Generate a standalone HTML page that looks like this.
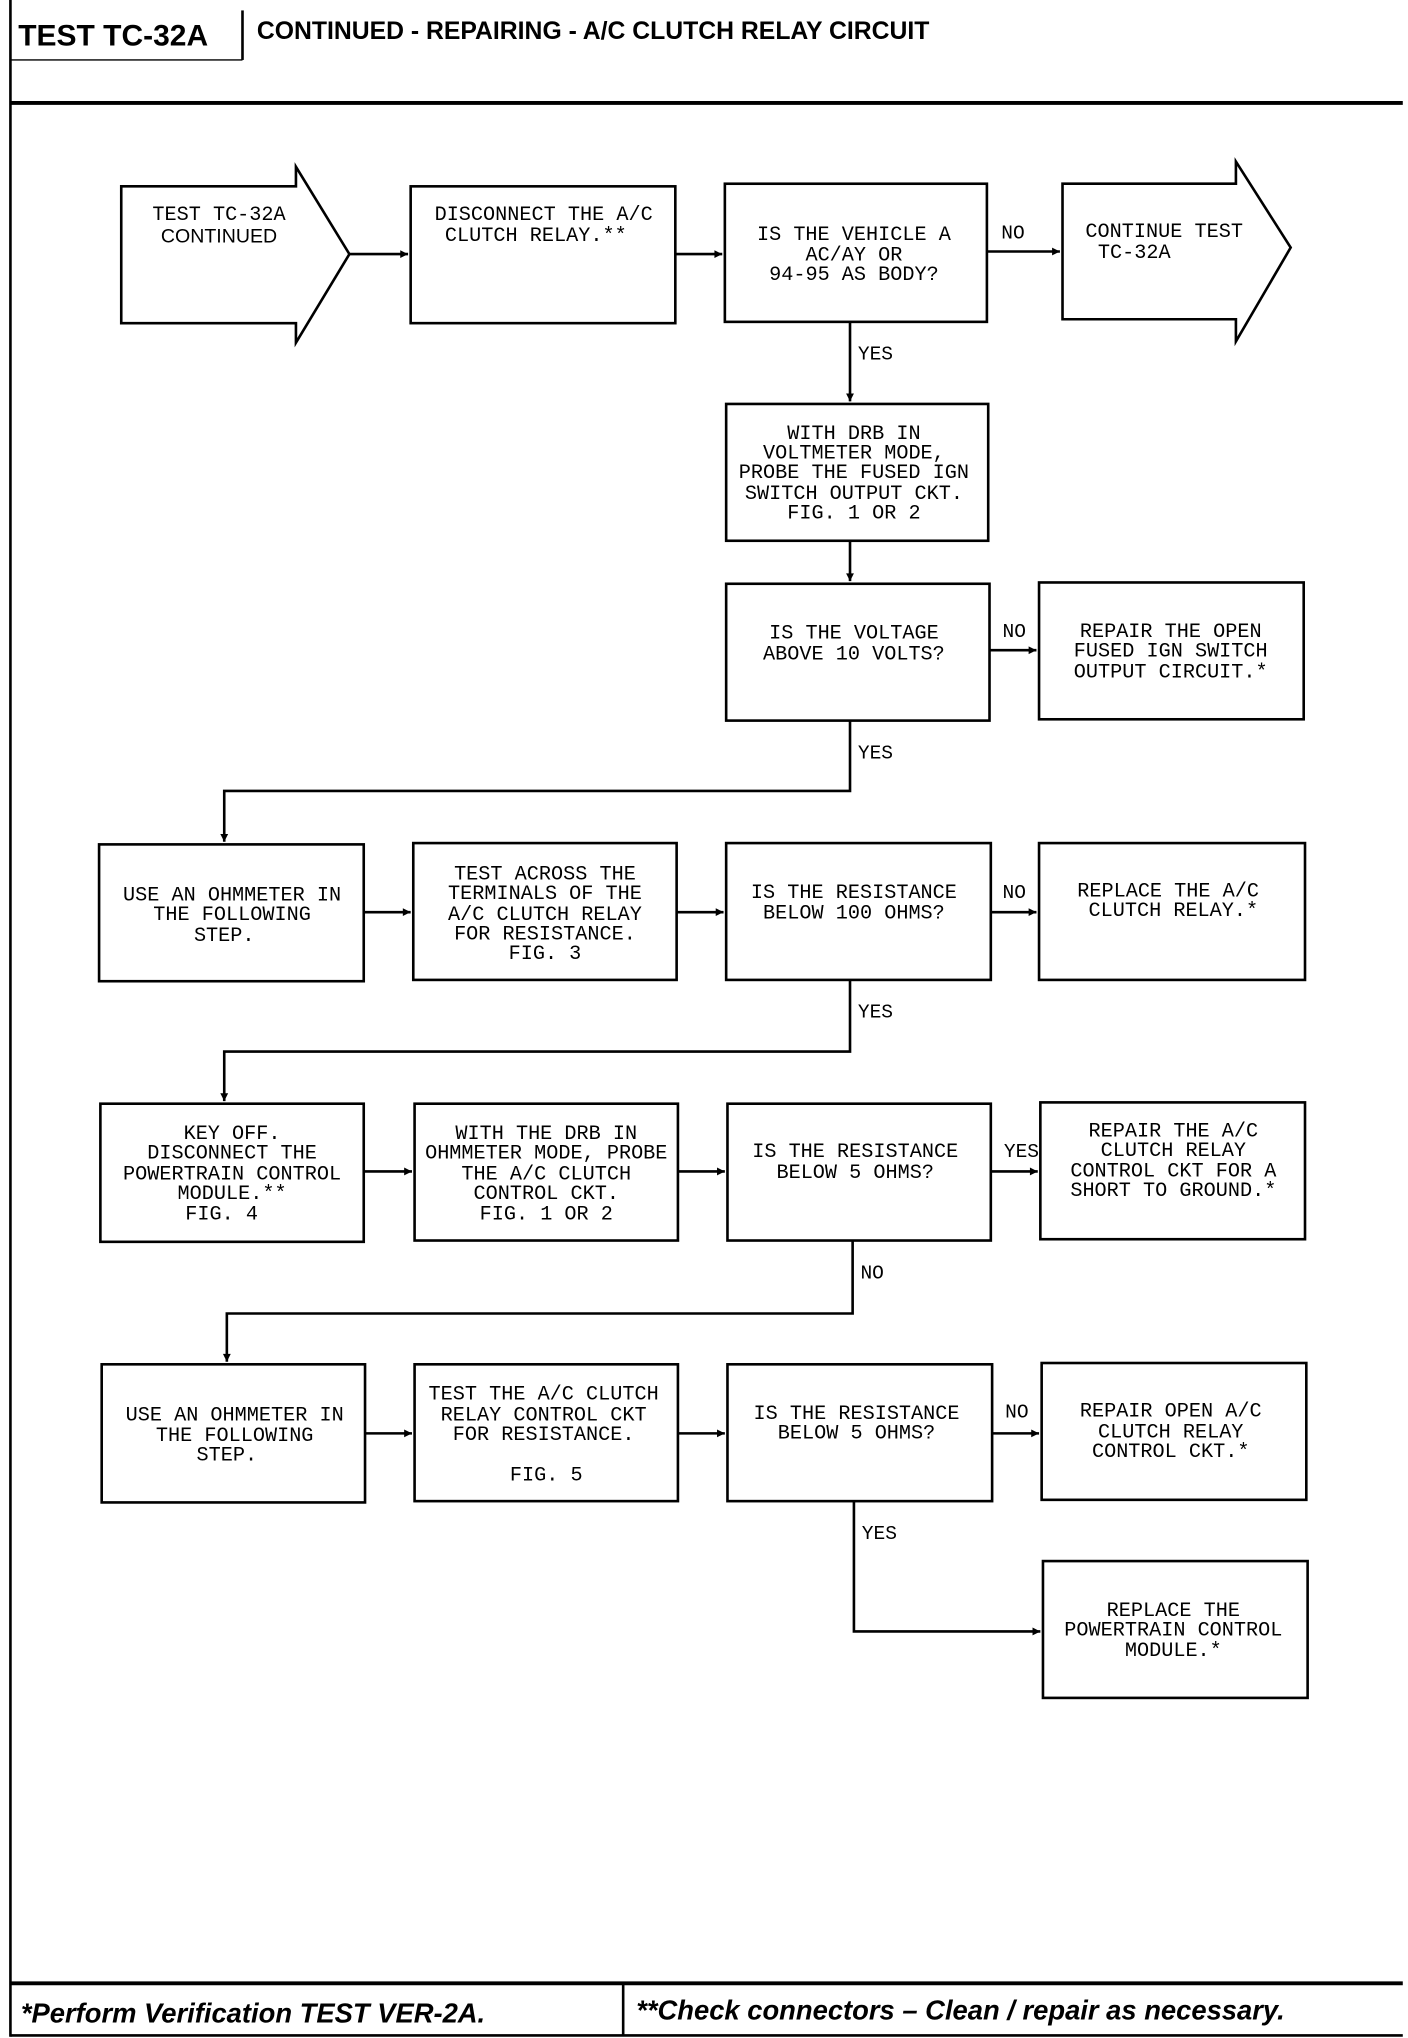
<!DOCTYPE html>
<html><head><meta charset="utf-8"><style>
html,body{margin:0;padding:0;background:#fff;}
svg{display:block;}
.t{font-family:"Liberation Mono",monospace;font-size:15.5px;fill:#000;text-anchor:middle;}
.l{font-family:"Liberation Mono",monospace;font-size:15px;fill:#000;}
</style></head><body>
<svg width="1408" height="2038" viewBox="0 0 1080 1564" preserveAspectRatio="none" xmlns="http://www.w3.org/2000/svg">
<g fill="none" stroke="#000" stroke-width="2">
<line x1="8" y1="0" x2="8" y2="1563"/>
<line x1="186" y1="8" x2="186" y2="46"/>
<line x1="8" y1="46" x2="186" y2="46" stroke-width="1"/>
<line x1="8" y1="79" x2="1076" y2="79" stroke-width="3"/>
<line x1="8" y1="1522" x2="1076" y2="1522" stroke-width="3"/>
<line x1="8" y1="1562" x2="1076" y2="1562" stroke-width="2"/>
<line x1="478" y1="1522" x2="478" y2="1562"/>
<!-- row1 -->
<polygon points="93,143 227,143 227,128 268,195 227,263 227,248 93,248"/>
<rect x="315" y="143" width="203" height="105"/>
<rect x="556" y="141" width="201" height="106"/>
<polygon points="815,141 948,141 948,124 990,190 948,262 948,245 815,245"/>
<rect x="557" y="310" width="201" height="105"/>
<rect x="557" y="448" width="202" height="105"/>
<rect x="797" y="447" width="203" height="105"/>
<!-- row3 -->
<rect x="76" y="648" width="203" height="105"/>
<rect x="317" y="647" width="202" height="105"/>
<rect x="557" y="647" width="203" height="105"/>
<rect x="797" y="647" width="204" height="105"/>
<!-- row4 -->
<rect x="77" y="847" width="202" height="106"/>
<rect x="318" y="847" width="202" height="105"/>
<rect x="558" y="847" width="202" height="105"/>
<rect x="798" y="846" width="203" height="105"/>
<!-- row5 -->
<rect x="78" y="1047" width="202" height="106"/>
<rect x="318" y="1047" width="202" height="105"/>
<rect x="558" y="1047" width="203" height="105"/>
<rect x="799" y="1046" width="203" height="105"/>
<rect x="800" y="1198" width="203" height="105"/>
<!-- connectors -->
<path d="M268,195 H313 M518,195 H554 M757,193 H813 M652,247 V308 M652,415 V446 M759,499 H795"/>
<path d="M652,553 V607 H172 V646"/>
<path d="M279,700 H315 M519,700 H555 M760,700 H795"/>
<path d="M652,752 V807 H172 V845"/>
<path d="M279,899 H316 M520,899 H556 M760,899 H796"/>
<path d="M654,952 V1008 H174 V1045"/>
<path d="M280,1100 H316 M520,1100 H556 M761,1100 H797"/>
<path d="M655,1152 V1252 H798"/>
</g>
<g fill="#000">
<polygon points="313,195 307,192 307,198"/><polygon points="554,195 548,192 548,198"/>
<polygon points="813,193 807,190 807,196"/><polygon points="652,308 649,302 655,302"/>
<polygon points="652,446 649,440 655,440"/><polygon points="795,499 789,496 789,502"/>
<polygon points="172,646 169,640 175,640"/><polygon points="315,700 309,697 309,703"/>
<polygon points="555,700 549,697 549,703"/><polygon points="795,700 789,697 789,703"/>
<polygon points="172,845 169,839 175,839"/><polygon points="316,899 310,896 310,902"/>
<polygon points="556,899 550,896 550,902"/><polygon points="796,899 790,896 790,902"/>
<polygon points="174,1045 171,1039 177,1039"/><polygon points="316,1100 310,1097 310,1103"/>
<polygon points="556,1100 550,1097 550,1103"/><polygon points="797,1100 791,1097 791,1103"/>
<polygon points="798,1252 792,1249 792,1255"/>
</g>
<text x="14" y="35" style="font-family:'Liberation Sans',sans-serif;font-weight:bold;font-size:23px">TEST TC-32A</text>
<text x="197" y="30" style="font-family:'Liberation Sans',sans-serif;font-weight:bold;font-size:19px">CONTINUED - REPAIRING - A/C CLUTCH RELAY CIRCUIT</text>
<text x="16" y="1552" style="font-family:'Liberation Sans',sans-serif;font-weight:bold;font-style:italic;font-size:21px">*Perform Verification TEST VER-2A.</text>
<text x="488" y="1550" style="font-family:'Liberation Sans',sans-serif;font-weight:bold;font-style:italic;font-size:21px">**Check connectors – Clean / repair as necessary.</text>

<text class="t" x="168" y="169">TEST TC-32A</text><text class="t" x="168" y="186" style="font-family:'Liberation Sans',sans-serif;font-size:15px">CONTINUED</text>
<text class="t" x="417" y="169">DISCONNECT THE A/C</text><text class="t" x="411" y="185">CLUTCH RELAY.**</text>
<text class="t" x="655" y="184">IS THE VEHICLE A</text><text class="t" x="655" y="200">AC/AY OR</text><text class="t" x="655" y="215">94-95 AS BODY?</text>
<text class="l" x="768" y="183">NO</text>
<text class="t" x="893" y="182">CONTINUE TEST</text><text class="t" x="870" y="198">TC-32A</text>
<text class="l" x="658" y="276">YES</text>
<text class="t" x="655" y="337">WITH DRB IN</text><text class="t" x="655" y="352">VOLTMETER MODE,</text><text class="t" x="655" y="367">PROBE THE FUSED IGN</text><text class="t" x="655" y="383">SWITCH OUTPUT CKT.</text><text class="t" x="655" y="398">FIG. 1 OR 2</text>
<text class="t" x="655" y="490">IS THE VOLTAGE</text><text class="t" x="655" y="506">ABOVE 10 VOLTS?</text>
<text class="l" x="769" y="489">NO</text>
<text class="t" x="898" y="489">REPAIR THE OPEN</text><text class="t" x="898" y="504">FUSED IGN SWITCH</text><text class="t" x="898" y="520">OUTPUT CIRCUIT.*</text>
<text class="l" x="658" y="582">YES</text>
<text class="t" x="178" y="691">USE AN OHMMETER IN</text><text class="t" x="178" y="706">THE FOLLOWING</text><text class="t" x="172" y="722">STEP.</text>
<text class="t" x="418" y="675">TEST ACROSS THE</text><text class="t" x="418" y="690">TERMINALS OF THE</text><text class="t" x="418" y="706">A/C CLUTCH RELAY</text><text class="t" x="418" y="721">FOR RESISTANCE.</text><text class="t" x="418" y="736">FIG. 3</text>
<text class="t" x="655" y="689">IS THE RESISTANCE</text><text class="t" x="655" y="705">BELOW 100 OHMS?</text>
<text class="l" x="769" y="689">NO</text>
<text class="t" x="896" y="688">REPLACE THE A/C</text><text class="t" x="900" y="703">CLUTCH RELAY.*</text>
<text class="l" x="658" y="781">YES</text>
<text class="t" x="178" y="874">KEY OFF.</text><text class="t" x="178" y="889">DISCONNECT THE</text><text class="t" x="178" y="905">POWERTRAIN CONTROL</text><text class="t" x="178" y="920">MODULE.**</text><text class="t" x="170" y="936">FIG. 4</text>
<text class="t" x="419" y="874">WITH THE DRB IN</text><text class="t" x="419" y="889">OHMMETER MODE, PROBE</text><text class="t" x="419" y="905">THE A/C CLUTCH</text><text class="t" x="419" y="920">CONTROL CKT.</text><text class="t" x="419" y="936">FIG. 1 OR 2</text>
<text class="t" x="656" y="888">IS THE RESISTANCE</text><text class="t" x="656" y="904">BELOW 5 OHMS?</text>
<text class="l" x="770" y="888">YES</text>
<text class="t" x="900" y="872">REPAIR THE A/C</text><text class="t" x="900" y="887">CLUTCH RELAY</text><text class="t" x="900" y="903">CONTROL CKT FOR A</text><text class="t" x="900" y="918">SHORT TO GROUND.*</text>
<text class="l" x="660" y="981">NO</text>
<text class="t" x="180" y="1090">USE AN OHMMETER IN</text><text class="t" x="180" y="1106">THE FOLLOWING</text><text class="t" x="174" y="1121">STEP.</text>
<text class="t" x="417" y="1074">TEST THE A/C CLUTCH</text><text class="t" x="417" y="1090">RELAY CONTROL CKT</text><text class="t" x="417" y="1105">FOR RESISTANCE.</text><text class="t" x="419" y="1136">FIG. 5</text>
<text class="t" x="657" y="1089">IS THE RESISTANCE</text><text class="t" x="657" y="1104">BELOW 5 OHMS?</text>
<text class="l" x="771" y="1088">NO</text>
<text class="t" x="898" y="1087">REPAIR OPEN A/C</text><text class="t" x="898" y="1103">CLUTCH RELAY</text><text class="t" x="898" y="1118">CONTROL CKT.*</text>
<text class="l" x="661" y="1181">YES</text>
<text class="t" x="900" y="1240">REPLACE THE</text><text class="t" x="900" y="1255">POWERTRAIN CONTROL</text><text class="t" x="900" y="1271">MODULE.*</text>
</svg>
</body></html>
